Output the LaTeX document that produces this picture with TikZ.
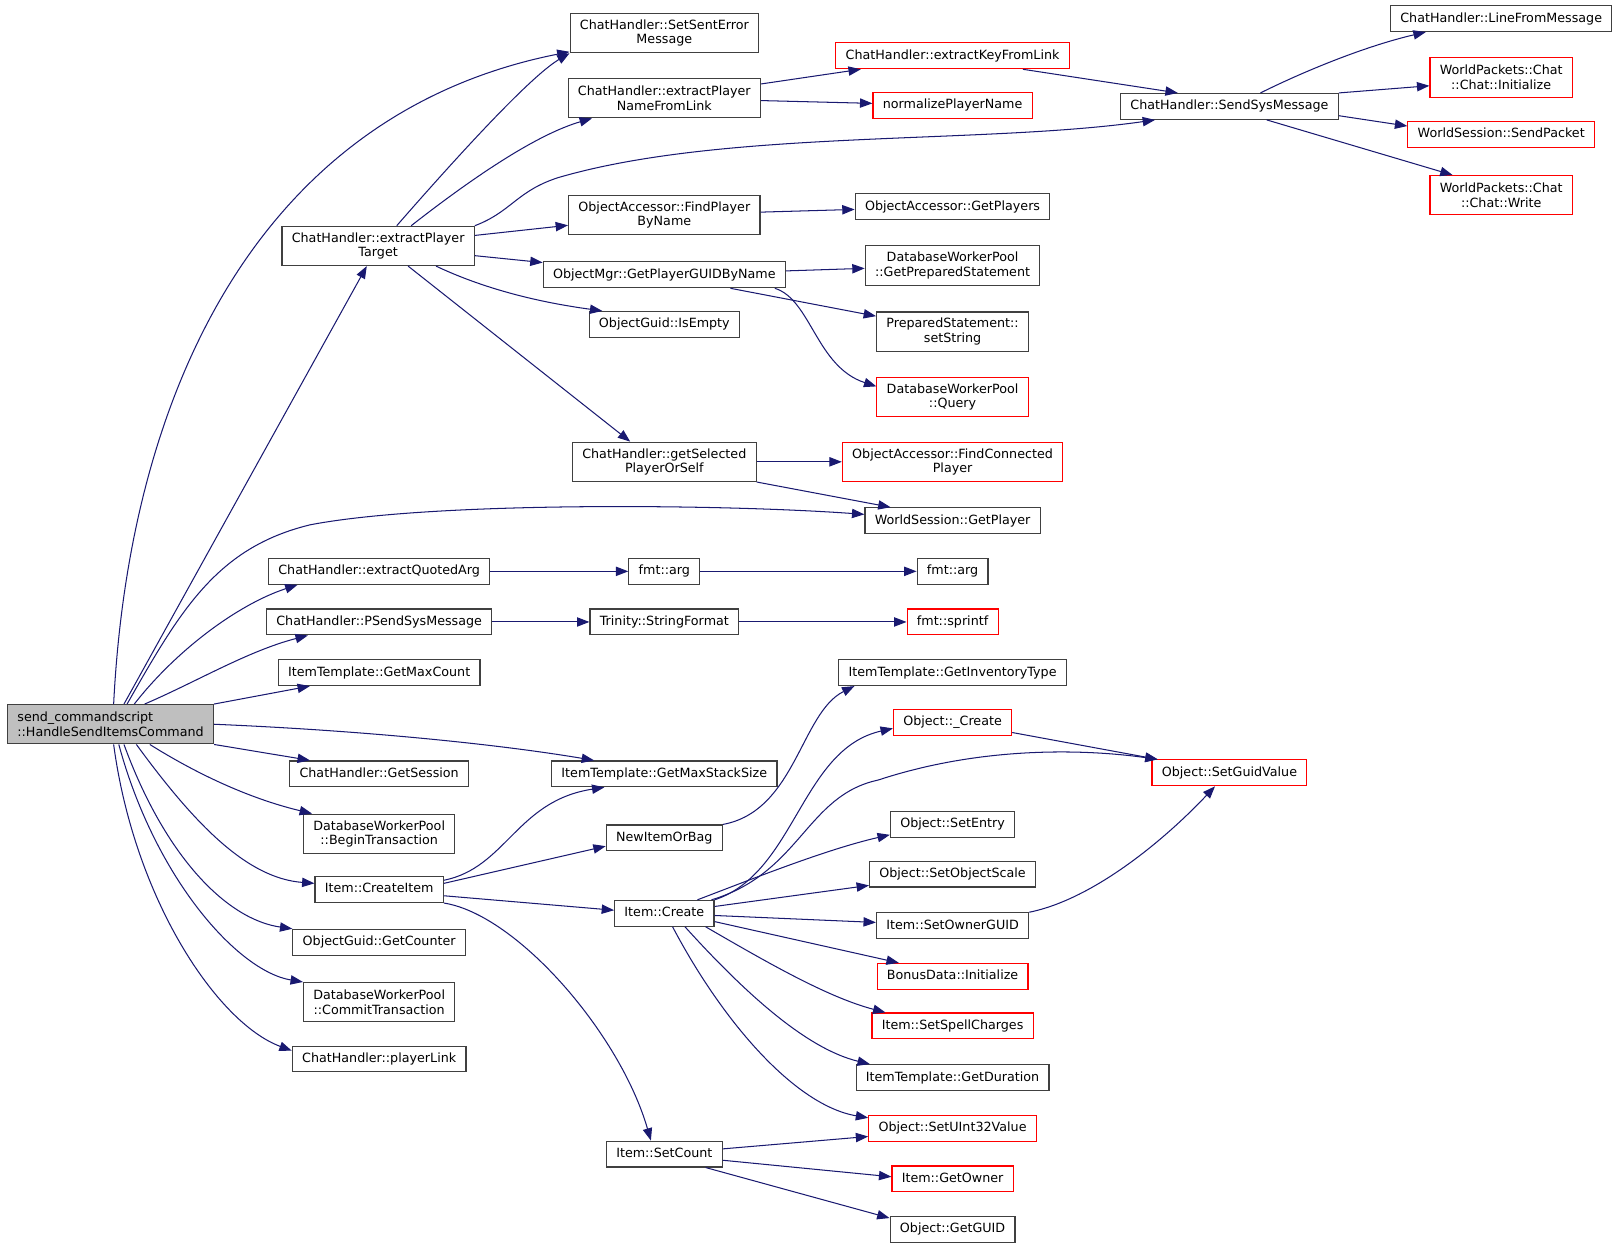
\documentclass[tikz,border=0pt]{standalone}
\usepackage{fontspec}
\setmainfont{DejaVu Sans}
\usetikzlibrary{arrows.meta}
\definecolor{edgeblue}{HTML}{191970}
\definecolor{boxgray}{HTML}{404040}
\definecolor{rootgray}{HTML}{BFBFBF}
\begin{document}
\begin{tikzpicture}[x=1pt, y=-1pt,
    fn/.style={draw=boxgray, line width=1.1pt, fill=white, inner xsep=9.5pt, inner ysep=3pt,
      minimum height=25pt, font=\fontsize{12.3}{14}\selectfont},
    one/.style={fn, text height=9.2pt, text depth=2.6pt},
    two/.style={fn, align=center, minimum height=38pt},
    trunc/.style={draw=red},
    call/.style={draw=edgeblue, line width=1pt, -{Triangle[length=12pt,width=9pt]}}]
    \useasboundingbox (0,0) rectangle (1568,1209);

    \node [fn, align=left, fill=rootgray, minimum height=38pt] (main) at (107,701) {send\_commandscript\\::HandleSendItemsCommand};

    \node [two] (ept) at (366,238) {ChatHandler::extractPlayer\\Target};
    \node [one] (eqa) at (367,553) {ChatHandler::extractQuotedArg};
    \node [one] (psm) at (367,602) {ChatHandler::PSendSysMessage};
    \node [one] (gmc) at (367,651) {ItemTemplate::GetMaxCount};
    \node [one] (gs) at (367,749) {ChatHandler::GetSession};
    \node [two] (bt) at (367,807) {DatabaseWorkerPool\\::BeginTransaction};
    \node [one] (crit) at (367,861) {Item::CreateItem};
    \node [one] (gc) at (367,912) {ObjectGuid::GetCounter};
    \node [two] (ct) at (367,970) {DatabaseWorkerPool\\::CommitTransaction};
    \node [one] (pl) at (367,1025) {ChatHandler::playerLink};

    \node [two] (sse) at (643,32) {ChatHandler::SetSentError\\Message};
    \node [two] (epn) at (643,95) {ChatHandler::extractPlayer\\NameFromLink};
    \node [two] (fpbn) at (643,208) {ObjectAccessor::FindPlayer\\ByName};
    \node [one] (gpgn) at (643,266) {ObjectMgr::GetPlayerGUIDByName};
    \node [one] (ie) at (643,314) {ObjectGuid::IsEmpty};
    \node [two] (gsp) at (643,447) {ChatHandler::getSelected\\PlayerOrSelf};
    \node [one] (fa1) at (643,553) {fmt::arg};
    \node [one] (sf) at (643,602) {Trinity::StringFormat};
    \node [one] (gmss) at (643,749) {ItemTemplate::GetMaxStackSize};
    \node [one] (niob) at (643,811) {NewItemOrBag};
    \node [one] (icr) at (643,884) {Item::Create};
    \node [one] (sc) at (643,1117) {Item::SetCount};

    \node [one, trunc] (ekl) at (922,54) {ChatHandler::extractKeyFromLink};
    \node [one, trunc] (npn) at (922,102) {normalizePlayerName};
    \node [one] (gp) at (922,200) {ObjectAccessor::GetPlayers};
    \node [two] (gps) at (922,257) {DatabaseWorkerPool\\::GetPreparedStatement};
    \node [two] (ss) at (922,321) {PreparedStatement::\\setString};
    \node [two, trunc] (qry) at (922,384) {DatabaseWorkerPool\\::Query};
    \node [two, trunc] (fcp) at (922,447) {ObjectAccessor::FindConnected\\Player};
    \node [one] (wsgp) at (922,504) {WorldSession::GetPlayer};
    \node [one] (fa2) at (922,553) {fmt::arg};
    \node [one, trunc] (spf) at (922,602) {fmt::sprintf};
    \node [one] (git) at (922,651) {ItemTemplate::GetInventoryType};
    \node [one, trunc] (cre) at (922,699) {Object::\_Create};
    \node [one] (se) at (922,798) {Object::SetEntry};
    \node [one] (sos) at (922,846) {Object::SetObjectScale};
    \node [one] (sog) at (922,896) {Item::SetOwnerGUID};
    \node [one, trunc] (bdi) at (922,945) {BonusData::Initialize};
    \node [one, trunc] (ssc) at (922,993) {Item::SetSpellCharges};
    \node [one] (gd) at (922,1043) {ItemTemplate::GetDuration};
    \node [one, trunc] (su32) at (922,1092) {Object::SetUInt32Value};
    \node [one, trunc] (go) at (922,1141) {Item::GetOwner};
    \node [one] (gg) at (922,1190) {Object::GetGUID};

    \node [one] (ssm) at (1190,103) {ChatHandler::SendSysMessage};
    \node [one, trunc] (sgv) at (1190,748) {Object::SetGuidValue};

    \node [one] (lfm) at (1453,18) {ChatHandler::LineFromMessage};
    \node [two, trunc] (cinit) at (1453,75) {WorldPackets::Chat\\::Chat::Initialize};
    \node [one, trunc] (sp) at (1453,130) {WorldSession::SendPacket};
    \node [two, trunc] (cw) at (1453,189) {WorldPackets::Chat\\::Chat::Write};

    % calls of the root
    \draw [call] ([xshift=3pt]main.north) .. controls (125,380) and (250,110) .. (sse);
    \draw [call] ([xshift=13pt]main.north) -- ([xshift=-11pt]ept.south);
    \draw [call] ([xshift=16pt]main.north) .. controls (175,590) and (210,530) .. (300,508)
        .. controls (420,485) and (700,488) .. (wsgp);
    \draw [call] ([xshift=23pt]main.north) .. controls (170,630) and (230,585) .. ([xshift=-79pt]eqa.south);
    \draw [call] ([xshift=33pt]main.north) .. controls (190,660) and (240,630) .. ([xshift=-69pt]psm.south);
    \draw [call] (main.north east) -- ([xshift=-67pt]gmc.south);
    \draw [call] (main.east) .. controls (350,707) and (480,720) .. ([xshift=-68pt]gmss.north);
    \draw [call] (main.south east) -- ([xshift=-67pt]gs.north);
    \draw [call] ([xshift=38pt]main.south) .. controls (200,755) and (250,775) .. ([xshift=-65pt]bt.north);
    \draw [call] ([xshift=25pt]main.south) .. controls (190,800) and (240,850) .. ([yshift=6pt]crit.west);
    \draw [call] ([xshift=13pt]main.south) .. controls (160,830) and (220,890) .. (gc.north west);
    \draw [call] ([xshift=8pt]main.south) .. controls (150,850) and (230,940) .. (ct.north west);
    \draw [call] ([xshift=3pt]main.south) .. controls (130,870) and (210,990) .. ([yshift=-5pt]pl.north west);

    % calls of the second column
    \draw [call] ([xshift=18pt]ept.north) .. controls (470,120) and (520,70) .. (sse.south west);
    \draw [call] ([xshift=32pt]ept.north) .. controls (460,170) and (520,130) .. ([xshift=-70pt]epn.south);
    \draw [call] (ept.north east) .. controls (495,205) and (500,185) .. (540,172)
        .. controls (700,125) and (950,140) .. ([xshift=-72pt]ssm.south);
    \draw [call] (ept) -- (fpbn);
    \draw [call] (ept) -- (gpgn);
    \draw [call] ([xshift=56pt]ept.south) .. controls (480,285) and (540,295) .. ([xshift=-60pt]ie.north);
    \draw [call] ([xshift=29pt]ept.south) -- ([xshift=-33pt]gsp.north);
    \draw [call] (eqa) -- (fa1);
    \draw [call] (psm) -- (sf);
    \draw [call] ([yshift=9pt]crit.east) .. controls (490,840) and (500,775) .. ([xshift=-58pt]gmss.south);
    \draw [call] ([yshift=6pt]crit.east) -- ([yshift=-8pt]niob.west);
    \draw [call] ([yshift=-6pt]crit.east) -- ([yshift=3pt]icr.west);
    \draw [call] (crit.south east) .. controls (500,885) and (600,1000) .. ([xshift=-13pt]sc.north);

    % calls of the third column
    \draw [call] (epn) -- (ekl);
    \draw [call] (epn) -- (npn);
    \draw [call] (fpbn) -- (gp);
    \draw [call] (gpgn) -- (gps);
    \draw [call] ([xshift=64pt]gpgn.south) -- ([yshift=15pt]ss.west);
    \draw [call] ([xshift=107pt]gpgn.south) .. controls (785,290) and (790,355) .. ([yshift=10pt]qry.west);
    \draw [call] (gsp) -- (fcp);
    \draw [call] (gsp.south east) -- ([xshift=-60pt]wsgp.north);
    \draw [call] (fa1) -- (fa2);
    \draw [call] (sf) -- (spf);
    \draw [call] (niob.north east) .. controls (770,785) and (775,690) .. ([xshift=-95pt]git.south);
    \draw [call] (icr.north east) .. controls (770,845) and (775,725) .. ([yshift=-6pt]cre.west);
    \draw [call] ([xshift=-3pt]icr.north east) .. controls (775,845) and (780,770) .. (850,755)
        .. controls (950,722) and (1050,725) .. ([xshift=6pt]sgv.north west);
    \draw [call] ([xshift=32pt]icr.north) .. controls (730,850) and (800,822) .. ([yshift=-10pt]se.west);
    \draw [call] (icr) -- (sos);
    \draw [call] (icr) -- (sog);
    \draw [call] ([yshift=-8pt]icr.east) -- ([xshift=-52pt]bdi.north);
    \draw [call] ([xshift=40pt]icr.south) .. controls (740,930) and (800,965) .. ([xshift=-65pt]ssc.north);
    \draw [call] ([xshift=20pt]icr.south) .. controls (720,960) and (780,1015) .. ([xshift=-80pt]gd.north);
    \draw [call] ([xshift=8pt]icr.south) .. controls (700,990) and (770,1070) .. ([yshift=-3pt]su32.north west);
    \draw [call] ([yshift=5pt]sc.east) -- ([yshift=-8pt]su32.west);
    \draw [call] ([yshift=-6pt]sc.east) -- ([yshift=2pt]go.west);
    \draw [call] ([xshift=40pt]sc.south) -- ([yshift=-2pt]gg.north west);

    % calls of the fourth column
    \draw [call] ([xshift=68pt]ekl.south) -- ([xshift=-50pt]ssm.north);
    \draw [call] ([yshift=-10pt]cre.east) -- ([xshift=6pt]sgv.north west);
    \draw [call] (sog.north east) .. controls (1060,870) and (1130,810) .. ([xshift=-14pt]sgv.south);

    % calls of SendSysMessage
    \draw [call] ([xshift=30pt]ssm.north) .. controls (1260,70) and (1320,45) .. ([xshift=-73pt]lfm.south);
    \draw [call] (ssm.north east) -- ([yshift=-8pt]cinit.west);
    \draw [call] ([yshift=-9pt]ssm.east) -- ([yshift=8pt]sp.west);
    \draw [call] ([xshift=36pt]ssm.south) -- ([xshift=-47pt]cw.north);
\end{tikzpicture}
\end{document}
